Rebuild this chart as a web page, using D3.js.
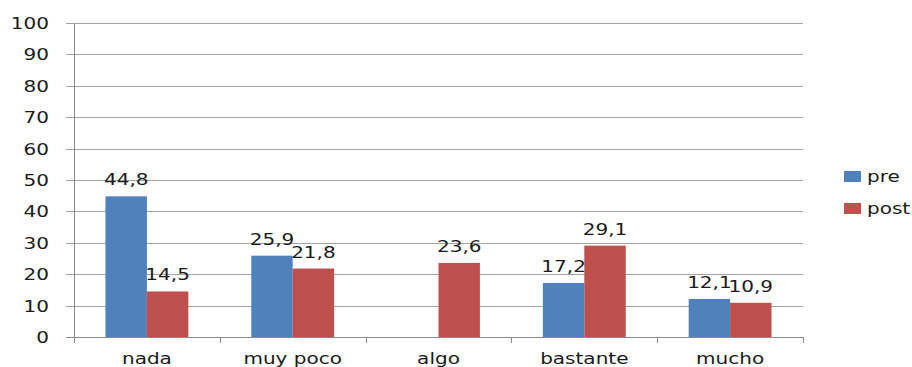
<!DOCTYPE html>
<html>
<head>
<meta charset="utf-8">
<script src="https://cdn.jsdelivr.net/npm/d3@7"></script>
<style>
  html, body { margin: 0; padding: 0; background: #fff; }
  svg { display: block; }
  text { font-family: "DejaVu Sans", Verdana, sans-serif; font-size: 16px; fill: #1a1a1a; }
</style>
</head>
<body>
<svg id="chart" width="912" height="367"></svg>
<script>
// Category names and series values
const categories = ["nada", "muy poco", "algo", "bastante", "mucho"];
const preValues  = [44.8, 25.9, null, 17.2, 12.1];
const postValues = [14.5, 21.8, 23.6, 29.1, 10.9];
const seriesNames = ["pre", "post"];
const seriesColors = ["#4F81BD", "#C0504D"];
const yTicks = [0, 10, 20, 30, 40, 50, 60, 70, 80, 90, 100];

const svg = d3.select("#chart");
const plot = { left: 74, right: 803, top: 23, bottom: 337 };
const stretch = 1.25; // wide lettering used throughout

const x = d3.scaleBand().domain(categories).range([plot.left, plot.right]).paddingInner(0).paddingOuter(0);
const y = d3.scaleLinear().domain([0, 100]).range([plot.bottom, plot.top]);
const inner = d3.scaleBand().domain(seriesNames).range([0, x.bandwidth()]).paddingInner(0).paddingOuter(0.76);

function label(g, tx, ty, str, anchor) {
  return g.append("text")
    .attr("transform", `translate(${tx},${ty}) scale(${stretch},1)`)
    .attr("text-anchor", anchor)
    .text(str);
}

// Horizontal gridlines with left tick extensions
svg.append("g").selectAll("line").data(yTicks).join("line")
  .attr("x1", plot.left - 8).attr("x2", plot.right)
  .attr("y1", d => Math.round(y(d)) + 0.5).attr("y2", d => Math.round(y(d)) + 0.5)
  .attr("stroke", d => d === 0 ? "#8a8a8a" : "#a3a3a3").attr("stroke-width", 1);

// Vertical axis line
svg.append("line")
  .attr("x1", plot.left + 0.5).attr("x2", plot.left + 0.5)
  .attr("y1", y(100)).attr("y2", y(0))
  .attr("stroke", "#8a8a8a");

// Category boundary ticks on the x axis
const boundaries = categories.map(c => x(c)).concat([plot.right]);
svg.append("g").selectAll("line").data(boundaries).join("line")
  .attr("x1", d => Math.round(d) + 0.5).attr("x2", d => Math.round(d) + 0.5)
  .attr("y1", y(0)).attr("y2", y(0) + 6)
  .attr("stroke", "#8a8a8a");

// Y tick labels
const yl = svg.append("g");
yTicks.forEach(t => label(yl, 49, y(t) + 6, String(t), "end"));

// Bars
const data = categories.map((c, i) => ({ cat: c, vals: [preValues[i], postValues[i]] }));
const groups = svg.append("g").selectAll("g").data(data).join("g")
  .attr("transform", d => `translate(${x(d.cat)},0)`);

groups.selectAll("rect")
  .data(d => d.vals.map((v, j) => ({ v, s: seriesNames[j], c: seriesColors[j] })).filter(e => e.v !== null))
  .join("rect")
  .attr("x", e => inner(e.s))
  .attr("width", inner.bandwidth())
  .attr("y", e => y(e.v))
  .attr("height", e => y(0) - y(e.v))
  .attr("fill", e => e.c);

// Value labels above bars (comma decimal separator)
const fmt = v => v.toFixed(1).replace(".", ",");
groups.each(function(d) {
  const g = d3.select(this);
  d.vals.forEach((v, j) => {
    if (v === null) return;
    label(g, inner(seriesNames[j]) + inner.bandwidth() / 2, y(v) - 11, fmt(v), "middle");
  });
});

// Category labels
const xl = svg.append("g");
categories.forEach(c => label(xl, x(c) + x.bandwidth() / 2, 364, c, "middle"));

// Legend
const legend = svg.append("g");
seriesNames.forEach((s, i) => {
  const ly = 171 + i * 32;
  legend.append("rect").attr("x", 844).attr("y", ly).attr("width", 17).attr("height", 11).attr("fill", seriesColors[i]);
  label(legend, 867, ly + 11, s, "start");
});
</script>
</body>
</html>
